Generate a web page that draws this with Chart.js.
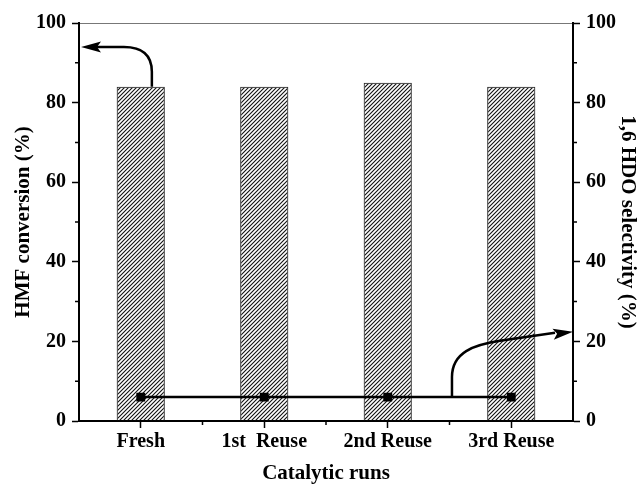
<!DOCTYPE html>
<html>
<head>
<meta charset="utf-8">
<script src="https://cdn.jsdelivr.net/npm/chart.js@4"></script>
<style>
  body { margin: 0; background: #fff; }
  #wrap { width: 640px; height: 486px; }
</style>
</head>
<body>
<div id="wrap"><canvas id="chartRuns"></canvas></div>
<script>
let runs = ["Fresh", "1st  Reuse", "2nd Reuse", "3rd Reuse"];
let conversion = [84, 84, 85, 84];
let selectivity = [6, 6, 6, 6];
let yTicks = [0, 20, 40, 60, 80, 100];

let serif = "'Liberation Serif', 'Times New Roman', serif";

// diagonal hatch for the bars
function hatch() {
  let c = document.createElement("canvas");
  c.width = 4;
  c.height = 4;
  let g = c.getContext("2d");
  g.strokeStyle = "#111";
  g.lineWidth = 1.1;
  g.beginPath();
  g.moveTo(-1, 1); g.lineTo(1, -1);
  g.moveTo(0, 4); g.lineTo(4, 0);
  g.moveTo(3, 5); g.lineTo(5, 3);
  g.stroke();
  return g.createPattern(c, "repeat");
}

function arrowHead(ctx, x, y, ang) {
  ctx.save();
  ctx.translate(x, y);
  ctx.rotate(ang);
  ctx.beginPath();
  ctx.moveTo(0, 0);
  ctx.lineTo(-20, -5.5);
  ctx.lineTo(-16, 0);
  ctx.lineTo(-20, 5.5);
  ctx.closePath();
  ctx.fill();
  ctx.restore();
}

// minor ticks + the curved arrows that point at each axis
let extras = {
  id: "extras",
  afterDraw(chart) {
    let ctx = chart.ctx;
    let xs = chart.scales.x;
    let yl = chart.scales.y;
    let yr = chart.scales.y1;
    let area = chart.chartArea;
    ctx.save();
    ctx.strokeStyle = "#000";
    ctx.fillStyle = "#000";
    ctx.lineWidth = 1.5;
    ctx.beginPath();
    [10, 30, 50, 70, 90].forEach((v) => {
      let py = yl.getPixelForValue(v);
      ctx.moveTo(area.left, py); ctx.lineTo(area.left - 4, py);
      ctx.moveTo(area.right, py); ctx.lineTo(area.right + 4, py);
    });
    [0.5, 1.5, 2.5].forEach((v) => {
      let px = xs.getPixelForValue(v);
      ctx.moveTo(px, area.bottom); ctx.lineTo(px, area.bottom + 4);
    });
    ctx.stroke();

    let step = xs.getPixelForValue(1) - xs.getPixelForValue(0);

    // left arrow: Fresh bar -> left axis
    ctx.lineWidth = 2.5;
    let bx = xs.getPixelForValue(0) + 0.09 * step;
    let by = yl.getPixelForValue(conversion[0]);
    let ty = yl.getPixelForValue(94);
    ctx.beginPath();
    ctx.moveTo(bx, by);
    ctx.lineTo(bx, by - 15);
    ctx.quadraticCurveTo(bx, ty, bx - 28, ty);
    ctx.lineTo(area.left + 18, ty);
    ctx.stroke();
    arrowHead(ctx, area.left + 2, ty, Math.PI);

    // right arrow: selectivity line -> right axis
    let sx = xs.getPixelForValue(2) + 0.52 * step;
    let sy = yr.getPixelForValue(selectivity[2]);
    let ey = yr.getPixelForValue(22.4);
    let mx = sx + 48;
    let my = ey + 9;
    ctx.beginPath();
    ctx.moveTo(sx, sy);
    ctx.lineTo(sx, sy - 20);
    ctx.bezierCurveTo(sx, sy - 45, sx + 22, my + 4, mx, my);
    ctx.lineTo(area.right - 18, ey + 1);
    ctx.stroke();
    arrowHead(ctx, area.right, ey, Math.atan2(ey - my, area.right - mx));
    ctx.restore();
  },
};

let tickFont = { family: serif, size: 20, weight: "bold" };
let titleFont = { family: serif, size: 21, weight: "bold" };

function yAxis(pos, title, w, tpad) {
  return {
    position: pos,
    min: 0,
    max: 100,
    afterBuildTicks: (axis) => {
      axis.ticks = yTicks.map((v) => ({ value: v }));
    },
    afterFit: (axis) => {
      axis.width = w;
    },
    border: { display: true, color: "#000", width: 2 },
    grid: {
      drawOnChartArea: pos == "left",
      color: (c) => (c.tick && c.tick.value == 100 ? "#777" : "rgba(0,0,0,0)"),
      tickColor: "#000",
      tickLength: 7,
      tickWidth: 1.5,
    },
    ticks: { color: "#000", font: tickFont, padding: 6 },
    title: { display: true, text: title, color: "#000", font: titleFont, padding: { top: tpad, bottom: 0 } },
  };
}

new Chart(document.getElementById("chartRuns"), {
  data: {
    labels: runs,
    datasets: [
      {
        type: "line",
        label: "1,6 HDO selectivity",
        data: selectivity,
        yAxisID: "y1",
        borderColor: "#000",
        backgroundColor: "#000",
        borderWidth: 2.5,
        pointStyle: "rect",
        pointRadius: 4.5,
        order: 0,
      },
      {
        type: "bar",
        label: "HMF conversion",
        data: conversion,
        yAxisID: "y",
        backgroundColor: hatch(),
        borderColor: "#222",
        borderWidth: 1,
        barPercentage: 0.39,
        categoryPercentage: 1,
        order: 1,
      },
    ],
  },
  options: {
    responsive: true,
    maintainAspectRatio: false,
    animation: false,
    layout: { padding: { top: 23, right: 0, left: 0, bottom: 0 } },
    plugins: { legend: { display: false }, tooltip: { enabled: false } },
    scales: {
      x: {
        offset: true,
        afterFit: (axis) => {
          axis.height = 65;
        },
        border: { display: true, color: "#000", width: 2 },
        grid: { offset: false, drawOnChartArea: false, tickColor: "#000", tickLength: 7, tickWidth: 1.5 },
        ticks: { color: "#000", font: tickFont, padding: 2, maxRotation: 0 },
        title: { display: true, text: "Catalytic runs", color: "#000", font: titleFont, padding: { top: 0, bottom: 0 } },
      },
      y: yAxis("left", "HMF conversion (%)", 79, 11),
      y1: yAxis("right", "1,6 HDO selectivity (%)", 67, 0),
    },
  },
  plugins: [extras],
});
</script>
</body>
</html>
